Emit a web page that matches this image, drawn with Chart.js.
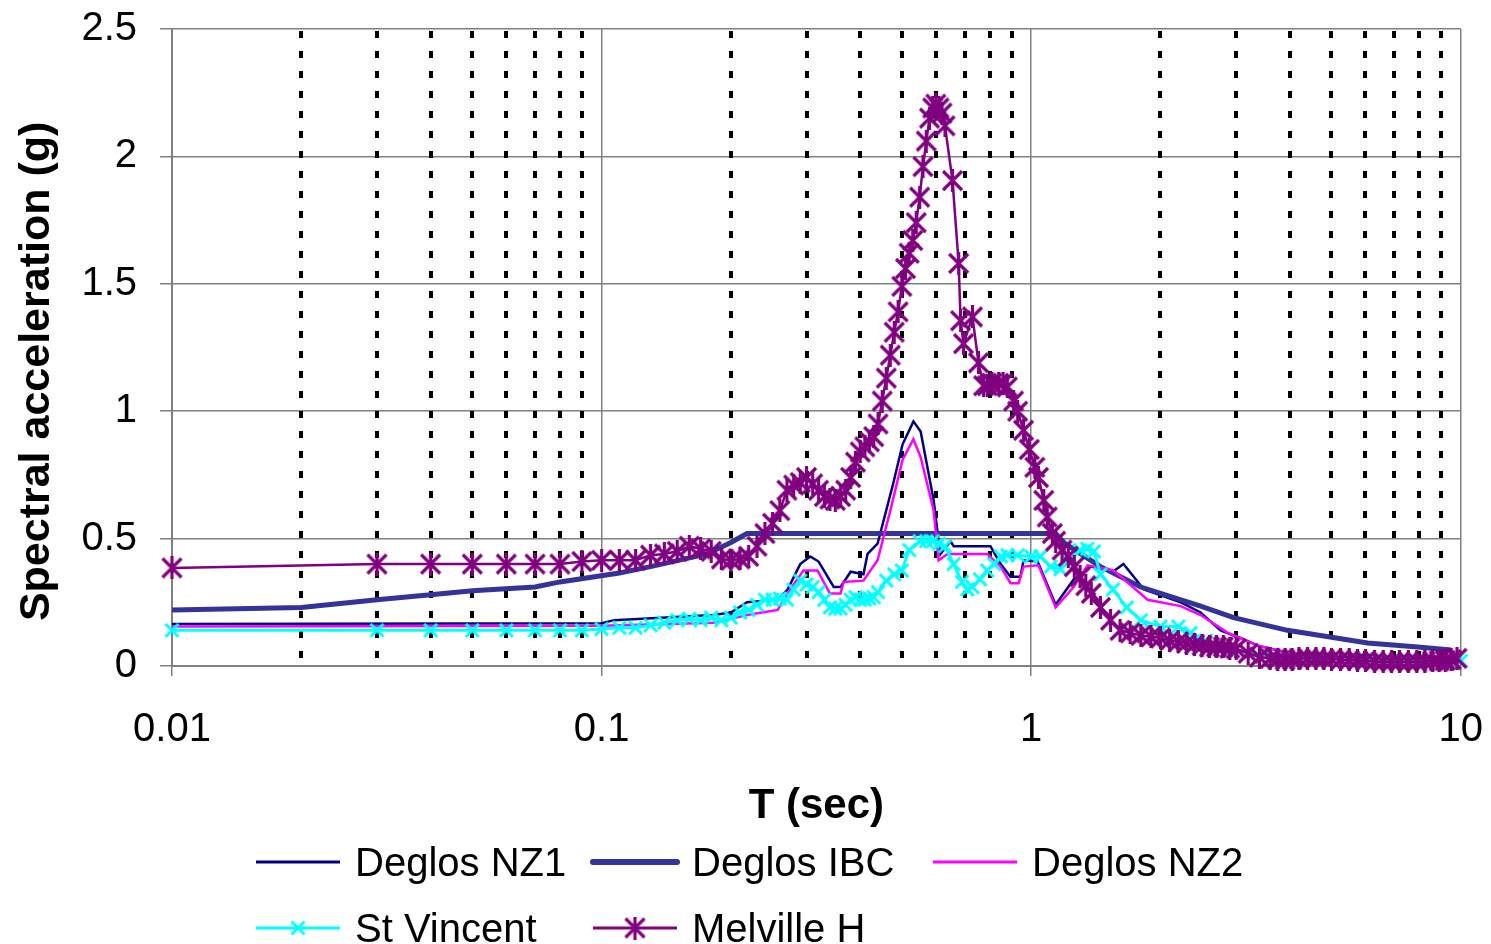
<!DOCTYPE html>
<html>
<head>
<meta charset="utf-8">
<script src="https://cdn.jsdelivr.net/npm/chart.js@4.4.0/dist/chart.umd.min.js"></script>
<style>
  body { margin: 0; background: #fff; font-family: "Liberation Sans", Arial, sans-serif; overflow: hidden; }
  #wrap { position: relative; width: 1491px; height: 944px; overflow: hidden; }
  #chart-box { position: absolute; left: 0; top: -18px; width: 1513px; height: 858px; }
  #legend { position: absolute; left: 253px; top: 829px; display: grid; grid-template-columns: 337px 340px auto; }
  .item { display: flex; align-items: center; height: 66px; font-size: 40px; color: #000; white-space: nowrap; }
  .item canvas { margin-right: 12px; }
</style>
</head>
<body>
<div id="wrap">
  <div id="chart-box"><canvas id="spectra"></canvas></div>
  <div id="legend"></div>
</div>
<script>
// periods (sec) and spectral accelerations (g)
const periodNZ1 = [0.01, 0.1, 0.107, 0.182, 0.2, 0.218, 0.257, 0.271, 0.29, 0.306, 0.32, 0.347, 0.36, 0.38, 0.407, 0.416, 0.439, 0.478, 0.502, 0.532, 0.553, 0.593, 0.609, 0.615, 0.649, 0.66, 0.711, 0.804, 0.849, 0.895, 0.944, 0.96, 1.035, 1.14, 1.256, 1.375, 1.55, 1.64, 1.83, 2.23, 2.48, 2.76, 3.07, 3.37, 4, 5, 7, 10];
const saNZ1     = [0.165, 0.168, 0.18, 0.2, 0.21, 0.25, 0.26, 0.30, 0.40, 0.43, 0.41, 0.31, 0.31, 0.37, 0.36, 0.44, 0.48, 0.72, 0.87, 0.96, 0.92, 0.65, 0.49, 0.44, 0.49, 0.47, 0.47, 0.47, 0.40, 0.35, 0.35, 0.415, 0.41, 0.24, 0.34, 0.39, 0.37, 0.40, 0.30, 0.25, 0.21, 0.14, 0.11, 0.08, 0.05, 0.035, 0.025, 0.02];

const periodIBC = [0.01, 0.02, 0.03, 0.04, 0.05, 0.07, 0.08, 0.11, 0.13, 0.176, 0.2, 0.218, 1.14, 1.2, 1.45, 1.8, 2.48, 2.96, 3.95, 6.07, 7.94, 9.5];
const saIBC     = [0.22, 0.23, 0.26, 0.28, 0.295, 0.31, 0.33, 0.365, 0.39, 0.44, 0.485, 0.52, 0.52, 0.48, 0.39, 0.31, 0.235, 0.19, 0.14, 0.09, 0.075, 0.063];

const periodNZ2 = [0.01, 0.1, 0.182, 0.2, 0.218, 0.257, 0.271, 0.295, 0.318, 0.34, 0.36, 0.366, 0.407, 0.439, 0.47, 0.502, 0.532, 0.553, 0.593, 0.609, 0.639, 0.674, 0.79, 0.849, 0.895, 0.935, 0.96, 1.04, 1.14, 1.256, 1.353, 1.556, 1.867, 2.228, 2.48, 2.87, 3.37, 4, 5, 7, 10];
const saNZ2     = [0.155, 0.158, 0.17, 0.185, 0.2, 0.22, 0.285, 0.375, 0.375, 0.285, 0.285, 0.33, 0.335, 0.415, 0.61, 0.81, 0.89, 0.82, 0.61, 0.415, 0.44, 0.44, 0.44, 0.39, 0.325, 0.325, 0.39, 0.395, 0.23, 0.31, 0.395, 0.375, 0.26, 0.235, 0.2, 0.13, 0.08, 0.05, 0.035, 0.025, 0.02];

const periodStV = [0.01, 0.03, 0.04, 0.05, 0.06, 0.07, 0.08, 0.09, 0.10, 0.11, 0.12, 0.13, 0.14, 0.15, 0.16, 0.17, 0.18, 0.19, 0.20, 0.21, 0.22, 0.23, 0.24, 0.25, 0.26, 0.27, 0.28, 0.29, 0.30, 0.31, 0.32, 0.33, 0.34, 0.35, 0.36, 0.37, 0.38, 0.39, 0.40, 0.41, 0.42, 0.43, 0.44, 0.46, 0.48, 0.50, 0.52, 0.55, 0.57, 0.59, 0.61, 0.63, 0.66, 0.69, 0.71, 0.73, 0.76, 0.79, 0.82, 0.85, 0.88, 0.93, 1.0, 1.05, 1.11, 1.17, 1.22, 1.30, 1.35, 1.40, 1.45, 1.55, 1.67, 1.8, 2.0, 2.2, 2.35, 2.55, 2.9, 3.5, 4.5, 6, 8, 10];
const saStV     = [0.14, 0.14, 0.14, 0.14, 0.14, 0.14, 0.14, 0.14, 0.145, 0.15, 0.15, 0.16, 0.17, 0.18, 0.185, 0.18, 0.19, 0.18, 0.19, 0.21, 0.22, 0.24, 0.26, 0.26, 0.265, 0.26, 0.30, 0.335, 0.32, 0.31, 0.29, 0.26, 0.23, 0.225, 0.225, 0.24, 0.26, 0.27, 0.26, 0.26, 0.265, 0.27, 0.29, 0.335, 0.36, 0.375, 0.455, 0.49, 0.49, 0.49, 0.48, 0.47, 0.40, 0.33, 0.30, 0.31, 0.34, 0.375, 0.40, 0.43, 0.435, 0.435, 0.43, 0.43, 0.39, 0.38, 0.41, 0.455, 0.46, 0.45, 0.36, 0.30, 0.23, 0.18, 0.155, 0.155, 0.13, 0.10, 0.063, 0.043, 0.03, 0.025, 0.02, 0.02];

const periodMelville = [0.01, 0.03, 0.04, 0.05, 0.06, 0.07, 0.08, 0.09, 0.10, 0.11, 0.12, 0.13, 0.14, 0.15, 0.16, 0.17, 0.18, 0.19, 0.20, 0.21, 0.22, 0.23, 0.24, 0.25, 0.26, 0.27, 0.28, 0.29, 0.30, 0.31, 0.32, 0.33, 0.34, 0.35, 0.36, 0.37, 0.38, 0.39, 0.40, 0.41, 0.42, 0.43, 0.44, 0.45, 0.46, 0.47, 0.48, 0.49, 0.50, 0.51, 0.52, 0.53, 0.54, 0.55, 0.56, 0.57, 0.58, 0.59, 0.60, 0.61, 0.62, 0.63, 0.656, 0.678, 0.685, 0.696, 0.73, 0.754, 0.775, 0.79, 0.81, 0.84, 0.86, 0.88, 0.91, 0.93, 0.96, 0.99, 1.02, 1.04, 1.07, 1.09, 1.12, 1.14, 1.18, 1.22, 1.26, 1.30, 1.34, 1.38, 1.45, 1.53, 1.61, 1.70, 1.80, 1.90, 2.0, 2.1, 2.2, 2.3, 2.4, 2.5, 2.6, 2.7, 2.8, 2.9, 3.0, 3.2, 3.4, 3.6, 3.75, 3.9, 4.05, 4.2, 4.4, 4.6, 4.8, 5.0, 5.25, 5.5, 5.75, 6.0, 6.3, 6.6, 6.9, 7.2, 7.55, 7.9, 8.25, 8.6, 8.9, 9.2, 9.5, 9.8];
const saMelville     = [0.385, 0.40, 0.40, 0.40, 0.40, 0.40, 0.40, 0.41, 0.415, 0.415, 0.415, 0.435, 0.44, 0.45, 0.47, 0.46, 0.45, 0.42, 0.415, 0.42, 0.43, 0.47, 0.52, 0.56, 0.61, 0.69, 0.71, 0.72, 0.74, 0.715, 0.69, 0.665, 0.655, 0.65, 0.665, 0.69, 0.74, 0.80, 0.84, 0.86, 0.88, 0.90, 0.95, 1.04, 1.13, 1.22, 1.31, 1.39, 1.49, 1.56, 1.62, 1.67, 1.74, 1.84, 1.96, 2.06, 2.15, 2.19, 2.205, 2.19, 2.17, 2.12, 1.905, 1.58, 1.355, 1.265, 1.37, 1.19, 1.10, 1.10, 1.11, 1.11, 1.11, 1.095, 1.04, 1.0, 0.925, 0.85, 0.78, 0.74, 0.65, 0.585, 0.52, 0.49, 0.455, 0.43, 0.39, 0.35, 0.315, 0.285, 0.23, 0.18, 0.14, 0.13, 0.12, 0.115, 0.11, 0.10, 0.095, 0.09, 0.085, 0.08, 0.075, 0.075, 0.075, 0.07, 0.068, 0.05, 0.035, 0.03, 0.026, 0.024, 0.026, 0.028, 0.03, 0.03, 0.028, 0.027, 0.025, 0.024, 0.022, 0.02, 0.018, 0.016, 0.016, 0.016, 0.016, 0.016, 0.018, 0.02, 0.02, 0.022, 0.025, 0.03];

const xTickValues = [0.01, 0.1, 1, 10];
const minorGridValues = [0.02, 0.03, 0.04, 0.05, 0.06, 0.07, 0.08, 0.09, 0.2, 0.3, 0.4, 0.5, 0.6, 0.7, 0.8, 0.9, 2, 3, 4, 5, 6, 7, 8, 9];

const toPoints = (t, sa) => t.map((x, i) => ({x: x, y: sa[i]}));

function markerImage(color, size, lineWidth, withVertical) {
  const c = document.createElement("canvas");
  c.width = size; c.height = size;
  const g = c.getContext("2d");
  g.strokeStyle = color;
  g.lineWidth = lineWidth;
  const p = 2, q = size - 2;
  g.beginPath();
  g.moveTo(p, p); g.lineTo(q, q);
  g.moveTo(q, p); g.lineTo(p, q);
  if (withVertical) { g.moveTo(size / 2, 0); g.lineTo(size / 2, size); }
  g.stroke();
  return c;
}

const crossMark = markerImage("#00FFFF", 17, 3, false);
const starMark = markerImage("#800080", 23, 3.2, true);

// black dotted lines at 2..9 of every decade
const minorGrid = {
  id: "minorGrid",
  beforeDatasetsDraw(chart) {
    const {ctx, chartArea, scales} = chart;
    ctx.save();
    ctx.strokeStyle = "#000";
    ctx.lineWidth = 4;
    ctx.setLineDash([7, 13]);
    minorGridValues.forEach(v => {
      const px = Math.round(scales.x.getPixelForValue(v));
      ctx.beginPath();
      ctx.moveTo(px, chartArea.top + 2);
      ctx.lineTo(px, chartArea.bottom);
      ctx.stroke();
    });
    ctx.restore();
  }
};

const datasets = [
  {label: "Deglos NZ1", data: toPoints(periodNZ1, saNZ1), borderColor: "#000080", borderWidth: 2.5, pointRadius: 0, order: 4},
  {label: "Deglos IBC", data: toPoints(periodIBC, saIBC), borderColor: "#333399", borderWidth: 5, pointRadius: 0, order: 3},
  {label: "Deglos NZ2", data: toPoints(periodNZ2, saNZ2), borderColor: "#FF00FF", borderWidth: 2.5, pointRadius: 0, order: 2},
  {label: "St Vincent", data: toPoints(periodStV, saStV), borderColor: "#00FFFF", borderWidth: 3, pointRadius: 5, pointStyle: crossMark, order: 1},
  {label: "Melville H", data: toPoints(periodMelville, saMelville), borderColor: "#800080", borderWidth: 2.5, pointRadius: 5, pointStyle: starMark, order: 0}
];
datasets.forEach(d => { d.showLine = true; d.fill = false; d.tension = 0; d.clip = false; d.backgroundColor = d.borderColor; });

const ctx = document.getElementById("spectra").getContext("2d");
const chart = new Chart(ctx, {
  type: "scatter",
  data: {datasets: datasets},
  plugins: [minorGrid],
  options: {
    responsive: true,
    maintainAspectRatio: false,
    animation: false,
    layout: {padding: {top: 10, right: 13, left: 0, bottom: 0}},
    plugins: {legend: {display: false}, tooltip: {enabled: false}},
    scales: {
      x: {
        type: "logarithmic",
        min: 0.01,
        max: 10,
        afterBuildTicks: scale => { scale.ticks = xTickValues.map(v => ({value: v, major: true})); },
        afterFit: scale => { scale.height = 174; },
        ticks: {
          color: "#000",
          font: {family: "Liberation Sans", size: 40},
          padding: 30,
          maxRotation: 0,
          autoSkip: false,
          callback: v => String(v)
        },
        grid: {color: "#808080", lineWidth: 1.5, tickLength: 10, tickColor: "#808080"},
        border: {color: "#808080", width: 2},
        title: {display: true, text: "T (sec)", color: "#000", font: {family: "Liberation Sans", size: 42, weight: "bold"}, padding: {top: 0, bottom: 8}}
      },
      y: {
        min: 0,
        max: 2.5,
        afterFit: scale => { scale.width = 172; },
        ticks: {
          stepSize: 0.5,
          color: "#000",
          font: {family: "Liberation Sans", size: 40},
          padding: 23,
          callback: v => String(v)
        },
        grid: {color: "#808080", lineWidth: 1.5, tickLength: 12, tickColor: "#808080"},
        border: {color: "#808080", width: 2},
        // trailing spaces nudge the centred title down a little, as in the original
        title: {display: true, text: "Spectral acceleration (g)    ", color: "#000", font: {family: "Liberation Sans", size: 43, weight: "bold"}, padding: {top: 11, bottom: 0}}
      }
    }
  }
});

// legend laid out in a grid like the original
const legendBox = document.getElementById("legend");
chart.data.datasets.forEach(d => {
  const item = document.createElement("div");
  item.className = "item";
  const sample = document.createElement("canvas");
  sample.width = 90; sample.height = 30;
  const g = sample.getContext("2d");
  g.strokeStyle = d.borderColor;
  g.lineWidth = d.label === "Deglos IBC" ? 6 : 3;
  g.lineCap = d.label === "Deglos IBC" ? "round" : "butt";
  g.beginPath(); g.moveTo(3, 15); g.lineTo(87, 15); g.stroke();
  if (d.pointStyle && typeof d.pointStyle === "object") {
    g.drawImage(d.pointStyle, 45 - d.pointStyle.width / 2, 15 - d.pointStyle.height / 2);
  }
  item.appendChild(sample);
  item.appendChild(document.createTextNode(d.label));
  legendBox.appendChild(item);
});
</script>
</body>
</html>
